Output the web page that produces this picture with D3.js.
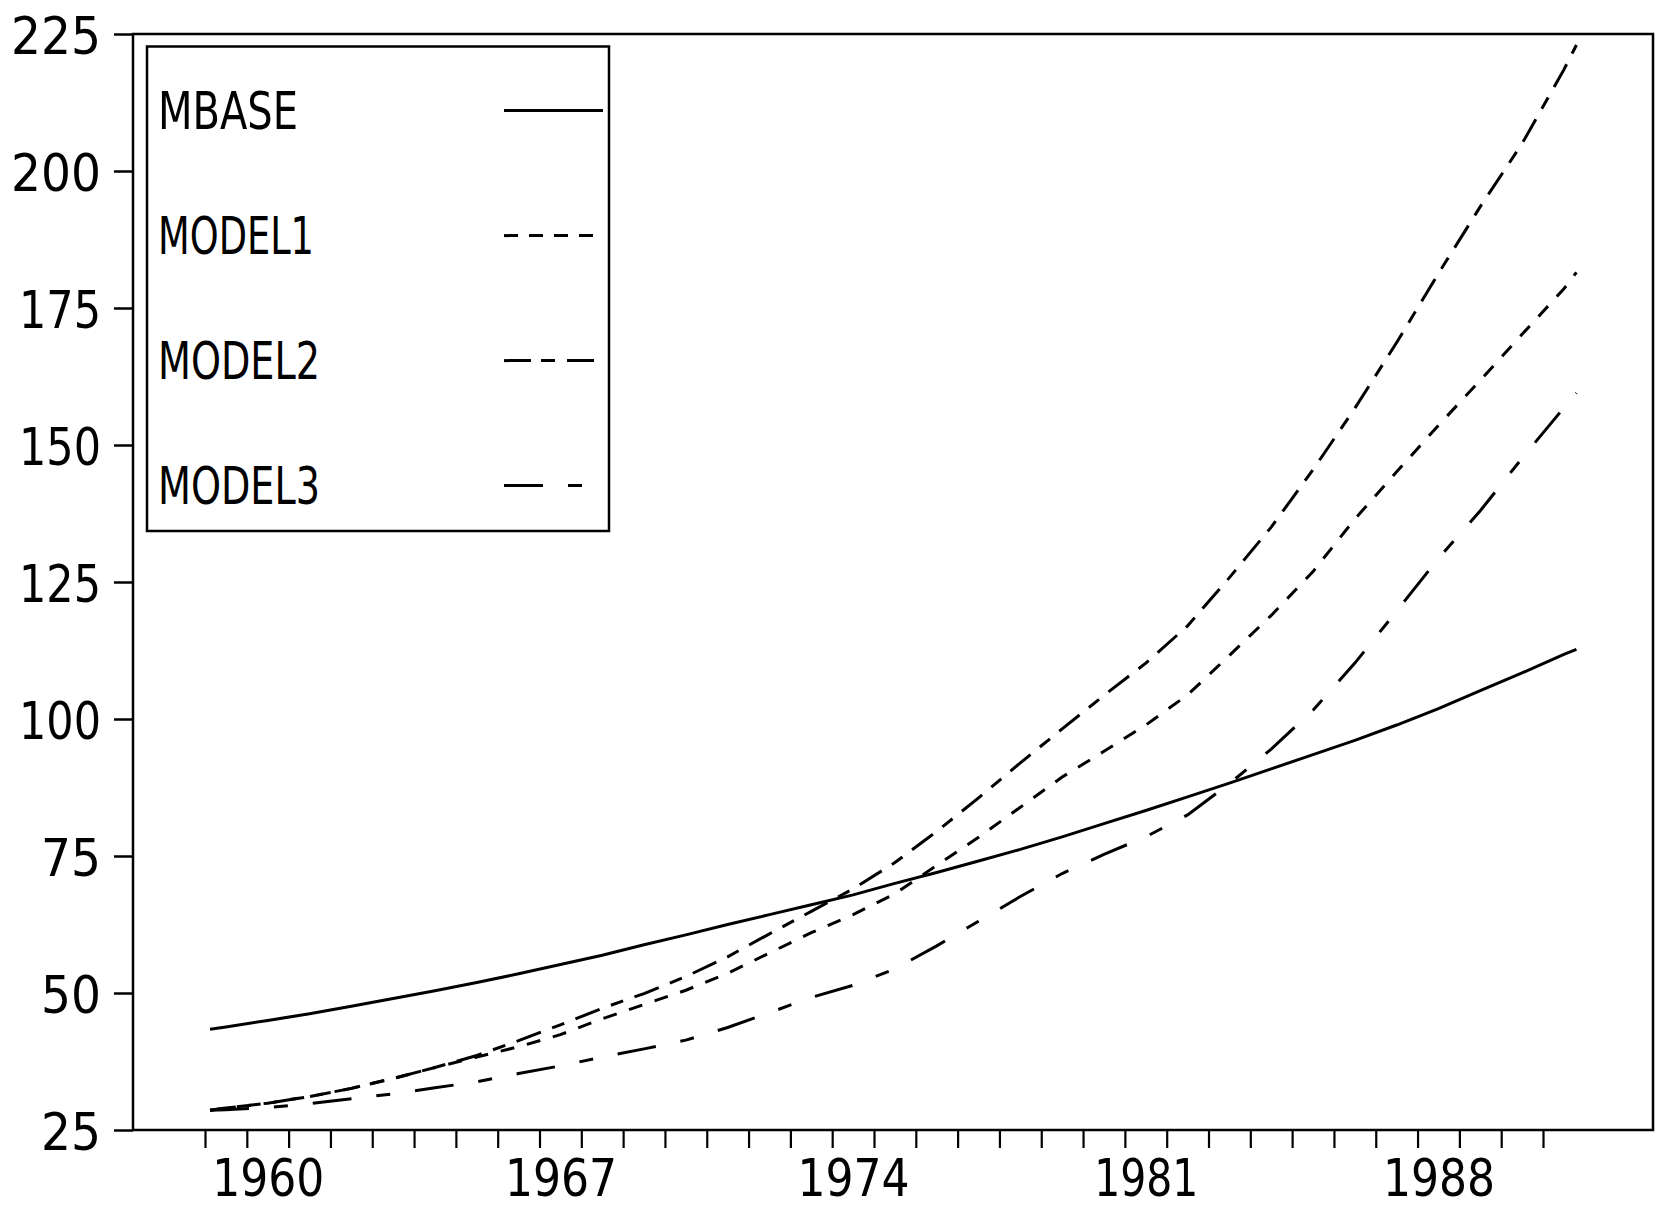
<!DOCTYPE html>
<html>
<head>
<meta charset="utf-8">
<title>MBASE and models</title>
<script src="https://cdnjs.cloudflare.com/ajax/libs/d3/7.8.5/d3.min.js"></script>
<style>
  body { margin: 0; background: #fff; }
  svg { display: block; }
  text { font-family: "Liberation Sans Narrow", "DejaVu Sans Condensed", "Liberation Sans", sans-serif; fill: #000; }
</style>
</head>
<body>
<script>

// sample times (years)
var years = [1958.62, 1959, 1960, 1961, 1962, 1963, 1964, 1965, 1966, 1967, 1968,
             1969, 1970, 1971, 1972, 1973, 1974, 1975, 1976, 1977, 1978,
             1979, 1980, 1981, 1982, 1983, 1984, 1985, 1986, 1987, 1988,
             1989, 1990, 1991, 1991.3];

var mbase  = [43.4, 43.8, 45.0, 46.2, 47.6, 49.0, 50.4, 51.9, 53.5, 55.2, 56.9,
              58.8, 60.6, 62.5, 64.3, 66.1, 67.9, 70.0, 72.0, 74.1, 76.2,
              78.5, 80.9, 83.3, 85.8, 88.3, 90.9, 93.5, 96.1, 98.9, 101.9,
              105.2, 108.4, 111.8, 112.7];

var model1 = [28.6, 29.0, 29.9, 31.1, 32.6, 34.4, 36.4, 38.3, 40.2, 42.4, 45.3,
              47.9, 50.5, 53.6, 57.3, 61.0, 64.3, 68.1, 73.3, 78.4, 83.9,
              89.4, 94.1, 98.9, 104.4, 111.6, 118.9, 126.9, 136.5, 145.1, 153.6,
              161.8, 170.2, 178.5, 181.5];

var model2 = [28.6, 29.0, 29.9, 31.1, 32.6, 34.4, 36.4, 38.6, 41.3, 44.2, 47.2,
              49.9, 53.0, 56.6, 60.8, 64.9, 69.0, 73.8, 79.5, 85.6, 92.0,
              98.2, 104.3, 110.2, 117.0, 125.8, 135.0, 145.5, 156.7, 168.7, 181.3,
              193.5, 205.0, 218.5, 223.0];

var model3 = [28.6, 28.7, 29.1, 29.8, 30.7, 31.6, 32.7, 33.8, 35.3, 36.7, 38.3,
              39.8, 41.4, 43.7, 46.4, 49.2, 51.4, 54.4, 58.6, 63.1, 67.6,
              71.8, 75.3, 78.5, 82.5, 88.2, 94.5, 101.6, 110.2, 119.7, 129.3,
              138.0, 147.6, 156.8, 159.5];

var seriesNames = ["MBASE", "MODEL1", "MODEL2", "MODEL3"];
var yTicks = [25, 50, 75, 100, 125, 150, 175, 200, 225];
var xLabels = [1960, 1967, 1974, 1981, 1988];

var width = 1665, height = 1230;
// plot frame (note: "top" is taken by window.top)
var frameL = 133, frameR = 1653, frameT = 34, frameB = 1130;

var x = d3.scaleLinear().domain([1958.5, 1990.5]).range([205, 1543]);
var y = d3.scaleLinear().domain([25, 225]).range([frameB, frameT]);

// plotter-ish font: size + forced widths
var fontSize = 52;
function numWidth(s) {
  return s.split("").reduce(function(w, c) { return w + (c === "1" ? 22 : 30); }, 0);
}
function legWidth(s) {
  return s.split("").reduce(function(w, c) {
    if (c === "1") return w + 16;
    if (c >= "0" && c <= "9") return w + 22;
    return w + 28;
  }, 0);
}

var svg = d3.select("body").append("svg")
    .attr("width", width)
    .attr("height", height);

svg.append("rect").attr("width", width).attr("height", height).attr("fill", "#fff");

// y axis
var yAxis = svg.append("g")
    .attr("transform", "translate(" + frameL + ",0)")
    .call(d3.axisLeft(y).tickValues(yTicks).tickSize(19).tickSizeOuter(0).tickPadding(13).tickFormat(d3.format("d")));
yAxis.select(".domain").remove();
yAxis.selectAll(".tick line").attr("stroke", "#000").attr("stroke-width", 2.5);
yAxis.selectAll(".tick text")
    .attr("font-size", fontSize)
    .attr("dy", "0.37em")
    .attr("textLength", function(d) { return numWidth(String(d)); })
    .attr("lengthAdjust", "spacingAndGlyphs");

// x axis: year ticks
var half = d3.range(1958.5, 1991, 1);
var xMinor = svg.append("g")
    .attr("transform", "translate(0," + frameB + ")")
    .call(d3.axisBottom(x).tickValues(half).tickSize(18).tickSizeOuter(0).tickFormat(""));
xMinor.select(".domain").remove();
xMinor.selectAll(".tick line").attr("stroke", "#000").attr("stroke-width", 2.2);

// x axis: labels
var xLab = svg.append("g")
    .attr("transform", "translate(0," + frameB + ")")
    .call(d3.axisBottom(x).tickValues(xLabels).tickSize(0).tickPadding(29).tickFormat(d3.format("d")));
xLab.select(".domain").remove();
xLab.selectAll(".tick text")
    .attr("font-size", fontSize)
    .attr("textLength", function(d) { return numWidth(String(d)); })
    .attr("lengthAdjust", "spacingAndGlyphs");

// frame
svg.append("rect")
    .attr("x", frameL).attr("y", frameT)
    .attr("width", frameR - frameL).attr("height", frameB - frameT)
    .attr("fill", "none").attr("stroke", "#000").attr("stroke-width", 2.5);

// series
var dashes = [null, "14,13", "26,12,13,12", "39,25,14,25"];
var legendDashes = [null, "14,11", "27,10,14,12", "39,25,14"];
var values = [mbase, model1, model2, model3];

var line = d3.line()
    .x(function(d) { return x(d[0]); })
    .y(function(d) { return y(d[1]); });

values.forEach(function(vals, i) {
  svg.append("path")
      .datum(years.map(function(t, j) { return [t, vals[j]]; }))
      .attr("d", line)
      .attr("fill", "none")
      .attr("stroke", "#000")
      .attr("stroke-width", 3)
      .attr("stroke-dasharray", dashes[i]);
});

// legend
var leg = svg.append("g");
leg.append("rect")
    .attr("x", 147).attr("y", 46.5)
    .attr("width", 462).attr("height", 484.5)
    .attr("fill", "#fff").attr("stroke", "#000").attr("stroke-width", 2.5);

seriesNames.forEach(function(name, i) {
  var base = 128.6 + i * 125;
  leg.append("text")
      .attr("x", 158).attr("y", base)
      .attr("font-size", fontSize)
      .attr("textLength", legWidth(name))
      .attr("lengthAdjust", "spacingAndGlyphs")
      .text(name);
  leg.append("line")
      .attr("x1", 504).attr("x2", i === 0 ? 603 : 595)
      .attr("y1", base - 18).attr("y2", base - 18)
      .attr("stroke", "#000").attr("stroke-width", 3)
      .attr("stroke-dasharray", legendDashes[i]);
});

</script>
</body>
</html>
